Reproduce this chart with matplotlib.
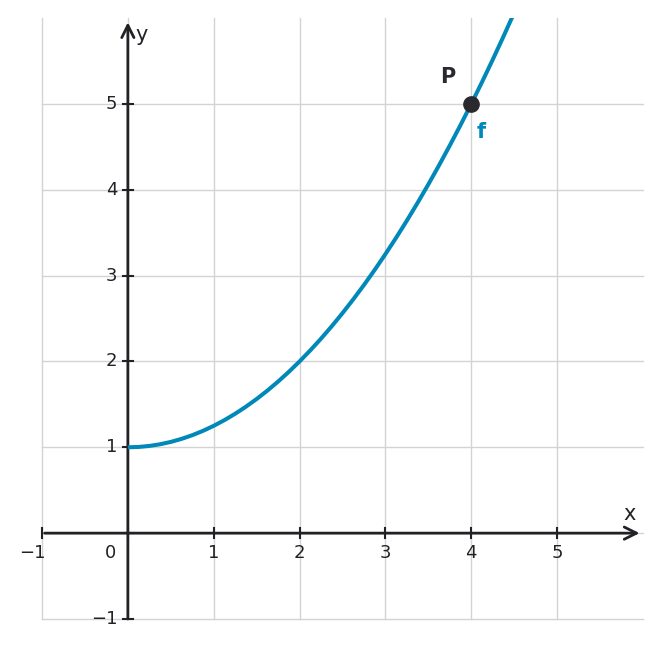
import numpy as np
import matplotlib.pyplot as plt
from matplotlib.transforms import offset_copy

x_values = [0, 0.125, 0.25, 0.375, 0.5, 0.625, 0.75, 0.875, 1, 1.125, 1.25,
            1.375, 1.5, 1.625, 1.75, 1.875, 2, 2.125, 2.25, 2.375, 2.5, 2.625,
            2.75, 2.875, 3, 3.125, 3.25, 3.375, 3.5, 3.625, 3.75, 3.875, 4,
            4.125, 4.25, 4.375, 4.5]
y_values = [1, 1.0039, 1.0156, 1.0352, 1.0625, 1.0977, 1.1406, 1.1914, 1.25,
            1.3164, 1.3906, 1.4727, 1.5625, 1.6602, 1.7656, 1.8789, 2, 2.1289,
            2.2656, 2.4102, 2.5625, 2.7227, 2.8906, 3.0664, 3.25, 3.4414,
            3.6406, 3.8477, 4.0625, 4.2852, 4.5156, 4.7539, 5, 5.2539, 5.5156,
            5.7852, 6.0625]

point_p = (4, 5)
x_ticks = [-1, 0, 1, 2, 3, 4, 5]
y_ticks = [-1, 0, 1, 2, 3, 4, 5]
x_tick_labels = ['\u22121', '', '1', '2', '3', '4', '5']
y_tick_labels = ['\u22121', '', '1', '2', '3', '4', '5']

curve_color = '#0088b8'
axis_color = '#222226'
grid_color = '#d3d3d3'

fig = plt.figure(figsize=(6.61, 6.48), dpi=100)
ax = fig.add_axes([42 / 661, 29 / 648, 601 / 661, 601 / 648])
ax.set_xlim(-1, 6)
ax.set_ylim(-1, 6)

# grid
for gx in x_ticks:
    ax.plot([gx, gx], [-1, 6], color=grid_color, lw=1.0, zorder=0, clip_on=False)
for gy in y_ticks:
    ax.plot([-1, 6], [gy, gy], color=grid_color, lw=1.0, zorder=0, clip_on=False)

for s in ax.spines.values():
    s.set_visible(False)
ax.set_xticks([])
ax.set_yticks([])

# axes with arrows
ax.annotate('', xy=(5.96, 0), xytext=(-0.97, 0),
            arrowprops=dict(arrowstyle='->', color=axis_color, lw=2.0,
                            mutation_scale=22, shrinkA=0, shrinkB=0), zorder=3)
ax.annotate('', xy=(0, 5.95), xytext=(0, -1),
            arrowprops=dict(arrowstyle='->', color=axis_color, lw=2.0,
                            mutation_scale=22, shrinkA=0, shrinkB=0), zorder=3)

# tick marks
tick_half = 0.055
for tx in x_ticks:
    ax.plot([tx, tx], [-tick_half, tick_half], color=axis_color, lw=1.5,
            zorder=3, clip_on=False)
for ty in y_ticks:
    ax.plot([-tick_half, tick_half], [ty, ty], color=axis_color, lw=1.5,
            zorder=3, clip_on=False)

# tick labels
fs = 13
lab_color = '#222226'
tr_x = offset_copy(ax.transData, fig=fig, x=0, y=-14.5, units='points')
for tx, lab in zip(x_ticks, x_tick_labels):
    if lab == '':
        continue
    dx = -0.11 if tx < 0 else 0
    ax.text(tx + dx, 0, lab, transform=tr_x, ha='center', va='center',
            fontsize=fs, color=lab_color)
tr_y = offset_copy(ax.transData, fig=fig, x=-7.5, y=0, units='points')
for ty, lab in zip(y_ticks, y_tick_labels):
    if lab == '':
        continue
    ax.text(0, ty, lab, transform=tr_y, ha='right', va='center',
            fontsize=fs, color=lab_color)
ax.text(-0.2, 0, '0', transform=tr_x, ha='center', va='center',
        fontsize=fs, color=lab_color)

# axis names
ax.text(5.84, 0.22, 'x', fontsize=15, color=lab_color, ha='center', va='center')
ax.text(0.165, 5.8, 'y', fontsize=15, color=lab_color, ha='center', va='center')

# curve and point
ax.plot(x_values, y_values, color=curve_color, lw=2.9, zorder=4,
        solid_capstyle='butt', solid_joinstyle='round')
ax.plot(point_p[0], point_p[1], 'o', color='#2a2a2e', markersize=11, zorder=5)
ax.text(point_p[0] - 0.27, point_p[1] + 0.31, 'P', fontsize=15,
        fontweight='bold', color='#2a2a2e', ha='center', va='center')
ax.text(point_p[0] + 0.11, point_p[1] - 0.33, 'f', fontsize=15,
        fontweight='bold', color=curve_color, ha='center', va='center')

fig.savefig('out.png', dpi=100)
